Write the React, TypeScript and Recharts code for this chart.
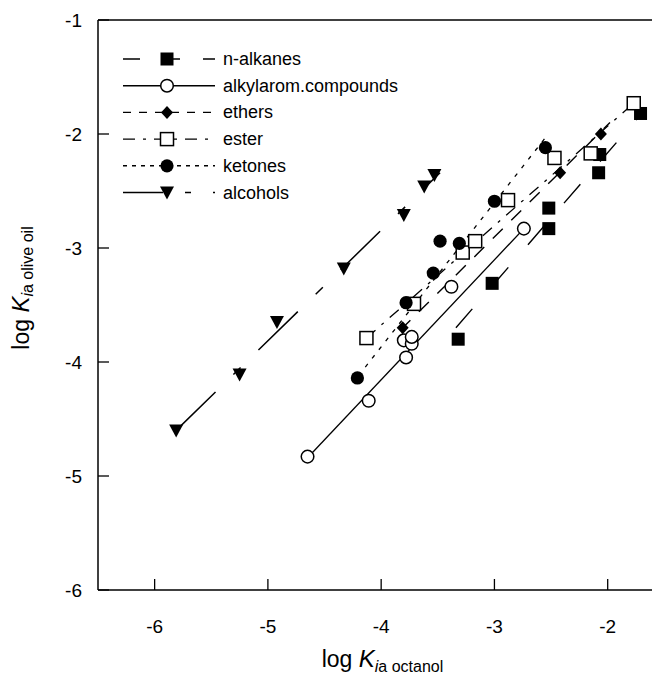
import React from "react";
import {
  ScatterChart,
  Scatter,
  XAxis,
  YAxis,
  ReferenceLine,
  Legend,
} from "recharts";

const FONT = "'Liberation Sans', Arial, Helvetica, sans-serif";

// measured points (log K octanol, log K olive oil)
const alkaneX = [-3.32, -3.02, -2.52, -2.52, -2.08, -2.07, -1.71];
const alkaneY = [-3.8, -3.31, -2.83, -2.65, -2.34, -2.18, -1.82];
const aromX = [-4.65, -4.11, -3.8, -3.78, -3.73, -3.73, -3.38, -2.74];
const aromY = [-4.83, -4.34, -3.81, -3.96, -3.84, -3.78, -3.34, -2.83];
const etherX = [-3.81, -2.42, -2.06];
const etherY = [-3.7, -2.34, -2.0];
const esterX = [-4.13, -3.71, -3.28, -3.17, -2.88, -2.47, -2.15, -1.77];
const esterY = [-3.79, -3.49, -3.04, -2.94, -2.58, -2.21, -2.17, -1.73];
const ketoneX = [-4.21, -3.78, -3.54, -3.48, -3.31, -3.0, -2.55];
const ketoneY = [-4.14, -3.48, -3.22, -2.94, -2.96, -2.59, -2.12];
const alcoholX = [-5.81, -5.25, -4.92, -4.33, -3.8, -3.62, -3.53];
const alcoholY = [-4.6, -4.11, -3.65, -3.18, -2.71, -2.46, -2.36];

// regression line end points
const alkaneFitX = [-3.34, -1.7];
const alkaneFitY = [-3.7, -1.82];
const aromFitX = [-4.65, -2.74];
const aromFitY = [-4.84, -2.83];
const etherFitX = [-3.83, -1.98];
const etherFitY = [-3.72, -1.9];
const esterFitX = [-4.13, -1.77];
const esterFitY = [-3.79, -1.73];
const ketoneFitX = [-4.2, -2.54];
const ketoneFitY = [-4.12, -2.02];
const alcoholFitX = [-5.81, -3.48];
const alcoholFitY = [-4.6, -2.34];

const xTicks = [-6, -5, -4, -3, -2];
const yTicks = [-6, -5, -4, -3, -2, -1];

const pts = (xs: number[], ys: number[]) => xs.map((x, i) => ({ x, y: ys[i] }));

type P = { cx?: number; cy?: number };

const SquareFilled = ({ cx = 0, cy = 0 }: P) => (
  <rect x={cx - 6.5} y={cy - 6.5} width={13} height={13} fill="#000" />
);
const SquareOpen = ({ cx = 0, cy = 0 }: P) => (
  <rect x={cx - 6.5} y={cy - 6.5} width={13} height={13} fill="#fff" stroke="#000" strokeWidth={1.5} />
);
const CircleOpen = ({ cx = 0, cy = 0 }: P) => (
  <circle cx={cx} cy={cy} r={6.3} fill="#fff" stroke="#000" strokeWidth={1.5} />
);
const CircleFilled = ({ cx = 0, cy = 0 }: P) => <circle cx={cx} cy={cy} r={6.6} fill="#000" />;
const Diamond = ({ cx = 0, cy = 0 }: P) => (
  <polygon points={`${cx},${cy - 6.5} ${cx + 6},${cy} ${cx},${cy + 6.5} ${cx - 6},${cy}`} fill="#000" />
);
const TriangleDown = ({ cx = 0, cy = 0 }: P) => (
  <polygon points={`${cx - 7},${cy - 6} ${cx + 7},${cy - 6} ${cx},${cy + 7}`} fill="#000" />
);
const NoDot = () => <g />;

const series = [
  { name: "n-alkanes", dash: "17 23", Shape: SquareFilled },
  { name: "alkylarom.compounds", dash: undefined, Shape: CircleOpen },
  { name: "ethers", dash: "8 8", Shape: Diamond },
  { name: "ester", dash: "12 8 3 8", Shape: SquareOpen },
  { name: "ketones", dash: "4 5", Shape: CircleFilled },
  { name: "alcohols", dash: "40 22 6 22", Shape: TriangleDown },
];

function LegendBox() {
  return (
    <svg width={300} height={165}>
      {series.map((s, i) => {
        const y = 13 + i * 26.7;
        return (
          <g key={s.name}>
            <line x1={0} x2={92} y1={y} y2={y} stroke="#000" strokeWidth={1.4} strokeDasharray={s.dash} />
            <s.Shape cx={44} cy={y} />
            <text x={100} y={y + 6} fontSize={18} fontFamily={FONT} fill="#000">
              {s.name}
            </text>
          </g>
        );
      })}
    </svg>
  );
}

function XTick(props: any) {
  const { x, y, payload } = props;
  return (
    <g>
      <line x1={x} x2={x} y1={y} y2={y - 11} stroke="#000" strokeWidth={1.3} />
      <text x={x} y={y + 43} textAnchor="middle" fontSize={19} fontFamily={FONT} fill="#000">
        {payload.value}
      </text>
    </g>
  );
}

function YTick(props: any) {
  const { x, y, payload } = props;
  return (
    <g>
      <line x1={x} x2={x + 11} y1={y} y2={y} stroke="#000" strokeWidth={1.3} />
      <text x={x - 16} y={y + 7} textAnchor="end" fontSize={19} fontFamily={FONT} fill="#000">
        {payload.value}
      </text>
    </g>
  );
}

export default function App() {
  return (
    <div style={{ position: "absolute", left: 0, top: 0, width: 652, height: 677, overflow: "hidden", background: "#fff" }}>
      <ScatterChart width={660} height={677} margin={{ top: 20, right: 7, bottom: 27, left: 38 }}>
        <XAxis
          type="number"
          dataKey="x"
          domain={[-6.5, -1.6]}
          ticks={xTicks}
          tick={<XTick />}
          tickLine={false}
          tickSize={0}
          tickMargin={0}
          height={60}
          axisLine={{ stroke: "#000", strokeWidth: 1.5 }}
          label={{
            content: (p: any) => {
              const vb = p.viewBox;
              const cx = vb.x + vb.width / 2 + 7;
              return (
                <text x={cx} y={667} textAnchor="middle" fontFamily={FONT} fill="#000">
                  <tspan fontSize={23}>log </tspan>
                  <tspan fontSize={24} fontStyle="italic">K</tspan>
                  <tspan fontSize={16} dy={5}>
                    <tspan fontStyle="italic">i</tspan>a octanol
                  </tspan>
                </text>
              );
            },
          }}
        />
        <YAxis
          type="number"
          dataKey="y"
          domain={[-6, -1]}
          ticks={yTicks}
          tick={<YTick />}
          tickLine={false}
          tickSize={0}
          tickMargin={0}
          width={60}
          axisLine={{ stroke: "#000", strokeWidth: 1.5 }}
          label={{
            content: () => (
              <text
                x={0}
                y={0}
                transform="translate(29,288) rotate(-90)"
                textAnchor="middle"
                fontFamily={FONT}
                fill="#000"
              >
                <tspan fontSize={23}>log </tspan>
                <tspan fontSize={24} fontStyle="italic">K</tspan>
                <tspan fontSize={16} dy={4}>
                  <tspan fontStyle="italic">i</tspan>a olive oil
                </tspan>
              </text>
            ),
          }}
        />
        <ReferenceLine y={-1} stroke="#000" strokeWidth={1.5} />
        <Legend
          layout="vertical"
          align="center"
          verticalAlign="middle"
          content={() => <LegendBox />}
          wrapperStyle={{ left: 123, top: 46, width: 300, height: 165 }}
        />

        <Scatter data={pts(alkaneFitX, alkaneFitY)} fill="#000" shape={NoDot} line={{ stroke: "#000", strokeWidth: 1.4, strokeDasharray: "25 30" }} lineType="joint" isAnimationActive={false} />
        <Scatter data={pts(aromFitX, aromFitY)} fill="#000" shape={NoDot} line={{ stroke: "#000", strokeWidth: 1.3 }} lineType="joint" isAnimationActive={false} />
        <Scatter data={pts(etherFitX, etherFitY)} fill="#000" shape={NoDot} line={{ stroke: "#000", strokeWidth: 1.4, strokeDasharray: "14 12" }} lineType="joint" isAnimationActive={false} />
        <Scatter data={pts(esterFitX, esterFitY)} fill="#000" shape={NoDot} line={{ stroke: "#000", strokeWidth: 1.3, strokeDasharray: "12 8 3 8" }} lineType="joint" isAnimationActive={false} />
        <Scatter data={pts(ketoneFitX, ketoneFitY)} fill="#000" shape={NoDot} line={{ stroke: "#000", strokeWidth: 1.3, strokeDasharray: "4 7" }} lineType="joint" isAnimationActive={false} />
        <Scatter data={pts(alcoholFitX, alcoholFitY)} fill="#000" shape={NoDot} line={{ stroke: "#000", strokeWidth: 1.5, strokeDasharray: "55 25 10 25" }} lineType="joint" isAnimationActive={false} />

        <Scatter name="alkylarom.compounds" data={pts(aromX, aromY)} shape={CircleOpen} isAnimationActive={false} />
        <Scatter name="n-alkanes" data={pts(alkaneX, alkaneY)} shape={SquareFilled} isAnimationActive={false} />
        <Scatter name="ethers" data={pts(etherX, etherY)} shape={Diamond} isAnimationActive={false} />
        <Scatter name="ester" data={pts(esterX, esterY)} shape={SquareOpen} isAnimationActive={false} />
        <Scatter name="ketones" data={pts(ketoneX, ketoneY)} shape={CircleFilled} isAnimationActive={false} />
        <Scatter name="alcohols" data={pts(alcoholX, alcoholY)} shape={TriangleDown} isAnimationActive={false} />
      </ScatterChart>
    </div>
  );
}
